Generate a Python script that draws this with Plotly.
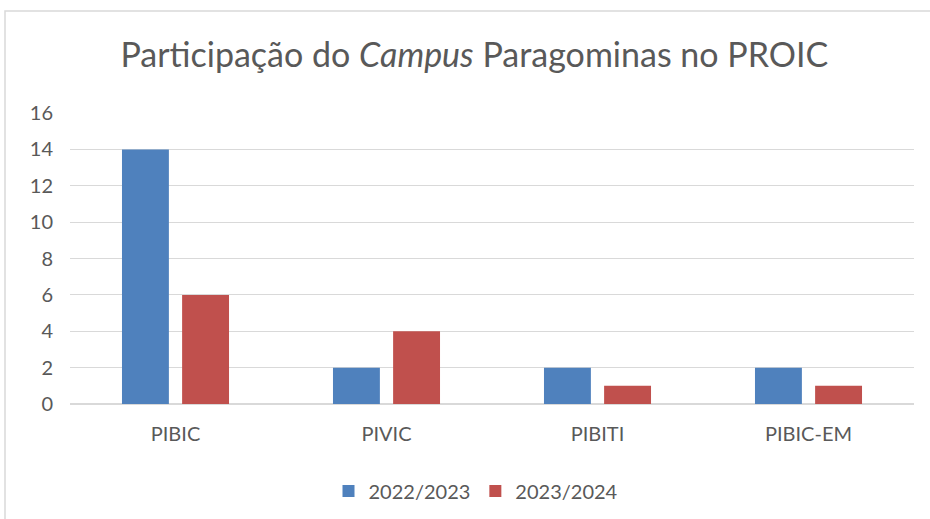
import plotly.graph_objects as go

categories = ["PIBIC", "PIVIC", "PIBITI", "PIBIC-EM"]
series_names = ["2022/2023", "2023/2024"]
values_2022 = [14, 2, 2, 2]
values_2023 = [6, 4, 1, 1]
y_ticks = [0, 2, 4, 6, 8, 10, 12, 14, 16]

font_family = "Lato, 'Open Sans', sans-serif"
text_color = "#595959"

fig = go.Figure()
fig.add_trace(go.Bar(x=categories, y=values_2022, name=series_names[0],
                     marker=dict(color="#4f81bd", line=dict(width=0))))
fig.add_trace(go.Bar(x=categories, y=values_2023, name=series_names[1],
                     marker=dict(color="#c0504d", line=dict(width=0))))

L, R, T, B = 70, 16, 113, 115
W, H = 930, 519
pw, ph = W - L - R, H - T - B

def px_x(p):
    return (p - L) / pw

def px_y(p):
    return (H - B - p) / ph

fig.update_layout(
    width=W, height=H,
    margin=dict(l=L, r=R, t=T, b=B, autoexpand=False),
    paper_bgcolor="white", plot_bgcolor="white",
    barmode="group", bargap=0.43, bargroupgap=0.22,
    font=dict(family=font_family, color=text_color, size=20),
    title=dict(text="Participação do <i>Campus</i> Paragominas no PROIC",
               x=0.51, xanchor="center", y=1 - 55 / H, yanchor="middle",
               font=dict(size=34, color=text_color, family=font_family)),
    showlegend=True,
    legend=dict(orientation="h", x=px_x(476), xanchor="center", y=px_y(491), yanchor="middle",
                font=dict(size=20, color=text_color), itemwidth=30, traceorder="normal"),
    xaxis=dict(showgrid=False, showline=False, ticks="", tickfont=dict(size=20),
               ticklabelstandoff=16),
    yaxis=dict(range=[0, 16], tickvals=y_ticks, showgrid=True, gridcolor="#d9d9d9",
               gridwidth=1, zeroline=True, zerolinecolor="#d9d9d9", showline=False,
               ticks="", tickfont=dict(size=20), ticklabelstandoff=16),
    shapes=[dict(type="rect", xref="paper", yref="paper",
                 x0=px_x(5), x1=px_x(940), y0=px_y(530), y1=px_y(11),
                 line=dict(color="#d9d9d9", width=1.5), fillcolor="rgba(0,0,0,0)", layer="below")],
)

fig.write_html("out.html", config={"displayModeBar": False},
               post_script="document.body.style.margin='0';")
